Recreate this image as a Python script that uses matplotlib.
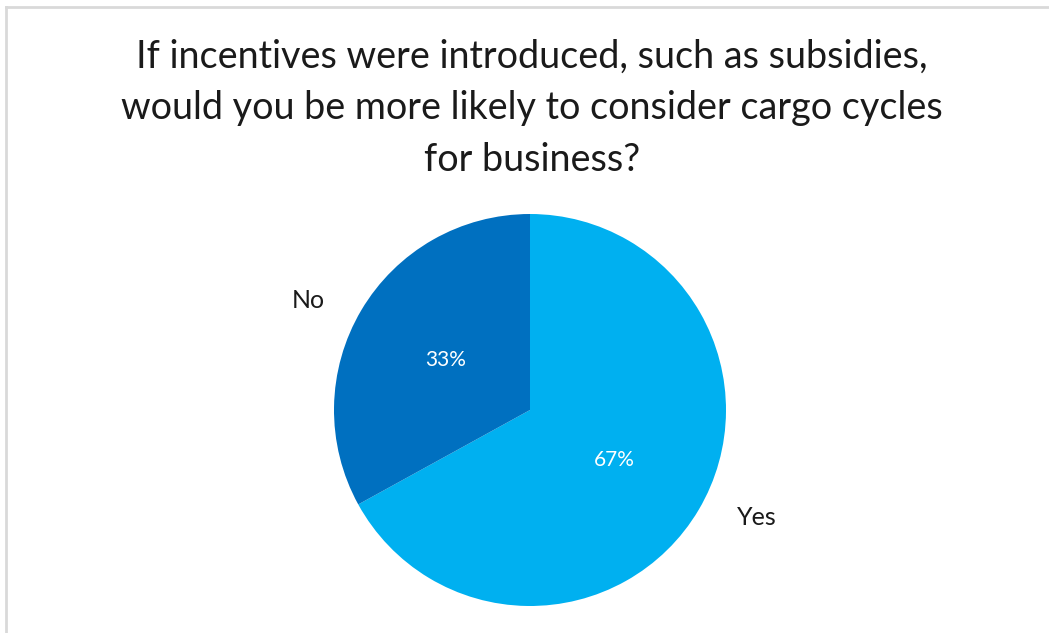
import matplotlib.pyplot as plt
from matplotlib.lines import Line2D

labels = ["Yes", "No"]
values = [67, 33]
colors = ["#00B0F0", "#0070C0"]
title = "If incentives were introduced, such as subsidies,\nwould you be more likely to consider cargo cycles\nfor business?"

W, H = 1049, 633
fig = plt.figure(figsize=(W / 100, H / 100), dpi=100)
fig.patch.set_facecolor("white")

# border (top and left visible)
fig.add_artist(Line2D([6 / W, 6 / W], [0, 1 - 7 / H], transform=fig.transFigure,
                      color="#D9D9D9", lw=2))
fig.add_artist(Line2D([6 / W, 1], [1 - 7 / H, 1 - 7 / H], transform=fig.transFigure,
                      color="#D9D9D9", lw=2))

cx, cy, r = 530, 410, 196
ax = fig.add_axes([(cx - r) / W, (H - cy - r) / H, 2 * r / W, 2 * r / H])
wedges, texts, autotexts = ax.pie(
    values, labels=labels, colors=colors, startangle=90, counterclock=False,
    autopct="%d%%", pctdistance=0.5, labeldistance=1.28, radius=1,
    textprops=dict(family="Lato", fontsize=12),
)
label_pos = {"Yes": (1.158, -0.546), "No": (-1.133, 0.561)}
for t in texts:
    t.set_ha("center")
    t.set_va("center")
    t.set_color("#1a1a1a")
    t.set_fontsize(18)
    t.set_position(label_pos[t.get_text()])
for t in autotexts:
    t.set_color("white")
    t.set_fontsize(15)
    t.set_ha("center")
    t.set_va("center")
ax.set_xlim(-1, 1)
ax.set_ylim(-1, 1)
ax.set_aspect("equal")
ax.axis("off")

fig.text(532 / W, 1 - 108.5 / H, title, ha="center", va="center", fontsize=27.2,
         family="Lato", color="#1a1a1a", linespacing=1.55)

fig.savefig("out.png", dpi=100, facecolor="white")
